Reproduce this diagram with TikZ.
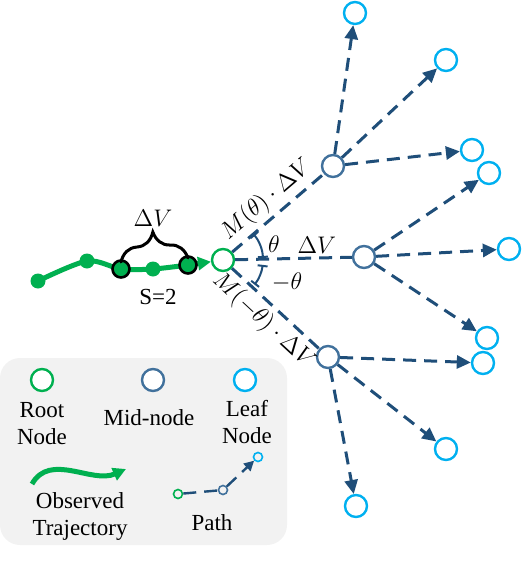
\documentclass[tikz,border=0pt]{standalone}
\usepackage{amsmath,amssymb}
\usepackage{fontspec}
\setmainfont{Liberation Serif}
\usepackage{tikz}
\usetikzlibrary{arrows.meta,positioning,calc,decorations.pathreplacing}
\definecolor{rootgreen}{RGB}{0,176,80}
\definecolor{midblue}{RGB}{65,113,156}
\definecolor{leafblue}{RGB}{0,176,240}
\definecolor{pathblue}{RGB}{31,78,121}
\definecolor{legendgray}{RGB}{242,242,242}

\begin{document}
\begin{tikzpicture}[x=0.5pt,y=-0.5pt,
  every node/.style={font=\fontsize{11.5}{13.5}\selectfont,text=black},
  rootnode/.style={circle,draw=rootgreen,line width=1.2pt,fill=white,minimum size=11pt,inner sep=0pt},
  midnode/.style={rootnode,draw=midblue},
  leafnode/.style={rootnode,draw=leafblue},
  dotnode/.style={circle,fill=rootgreen,minimum size=7.5pt,inner sep=0pt},
  keydot/.style={dotnode,draw=black,line width=1.3pt,minimum size=8.5pt},
  edgeline/.style={pathblue,line width=1.5pt,dash pattern=on 6.5pt off 4pt},
  leafedge/.style={edgeline,-{Triangle[length=7pt,width=6.5pt]}},
  traj/.style={rootgreen,line width=2.5pt,-{Triangle[length=6.5pt,width=6.5pt]}},
  anglearc/.style={pathblue,line width=1pt,{Bar[width=5pt]}-{Bar[width=5pt]}}]
  \useasboundingbox (0,0) rectangle (524,578);

  % legend background
  \fill[legendgray,rounded corners=10pt] (0,358) rectangle (287,545);

  % observed trajectory
  \coordinate (t1) at (38,281);
  \coordinate (t2) at (87,261);
  \coordinate (t3) at (121,269);
  \coordinate (t4) at (153,269);
  \coordinate (t5) at (188,265);
  \node[rootnode] (root) at (223,260) {};
  \draw[traj] plot[smooth,tension=0.5] coordinates {(t1) (t2) (t3) (t4) (t5)} -- (root);
  \foreach \p in {t1,t2,t4}
    \node[dotnode] (dot\p) at (\p) {};
  \node[keydot] (dott3) at (t3) {};
  \node[keydot] (dott5) at (t5) {};
  \draw[line width=1.5pt,line cap=round,decorate,decoration={brace,amplitude=14pt}]
    ($(dott3)+(0,-7)$) -- ($(dott5)+(0,-7)$);
  \node (bracelbl) at (153,218) {$\Delta V$};
  \node (steplbl) at (158,297) {S=2};

  % mid-nodes
  \node[midnode] (mtop) at (333,166) {};
  \node[midnode] (mmid) at (364,257) {};
  \node[midnode] (mbot) at (328,357) {};
  \draw[edgeline] (root) -- node[pos=0.5,sloped,above,inner sep=2pt] {$M(\theta)\cdot\Delta V$} (mtop);
  \draw[edgeline] (root) -- node[pos=0.7,above,inner sep=1.5pt] {$\Delta V$} (mmid);
  \draw[edgeline] (root) -- node[pos=0.5,sloped,below,inner sep=2pt] {$M(-\theta)\cdot\Delta V$} (mbot);

  % angles
  \draw[anglearc] (root.center) ++(-40:40) arc[start angle=-40,end angle=-3,radius=40];
  \draw[anglearc] (root.center) ++(7:40) arc[start angle=7,end angle=38,radius=40];
  \node (thetalbl) at (274,244) {$\theta$};
  \node (mthetalbl) at (287,282) {$-\theta$};

  % leaf nodes
  \foreach \n/\x/\y in {la/355/13,lb/446/60,lc/472/150,ld/489/173,le/509/249,
                        lf/487/338,lg/483/363,lh/446/449,li/356/506}
    \node[leafnode] (\n) at (\x,\y) {};
  \foreach \m/\l in {mtop/la,mtop/lb,mtop/lc,mmid/ld,mmid/le,mmid/lf,mbot/lg,mbot/lh,mbot/li}
    \draw[leafedge] (\m) -- (\l);

  % legend
  \node[rootnode] (keyroot) at (42,380) {};
  \node[midnode] (keymid) at (153,380) {};
  \node[leafnode] (keyleaf) at (245,380) {};
  \node[align=center] (keyrootlbl) at (42,424) {Root\\Node};
  \node (keymidlbl) at (149,418) {Mid-node};
  \node[align=center] (keyleaflbl) at (247,422) {Leaf\\Node};
  \coordinate (wstart) at (32,484);
  \coordinate (wend) at (126,469);
  \draw[traj] (wstart) .. controls (50,452) and (92,484) .. (wend);
  \node[align=center] (keytrajlbl) at (80,516) {Observed\\Trajectory};
  \node[circle,draw=rootgreen,line width=0.8pt,minimum size=4.5pt,inner sep=0pt] (proot) at (178,494) {};
  \node[circle,draw=midblue,line width=0.8pt,minimum size=4.5pt,inner sep=0pt] (pmid) at (223,490) {};
  \node[circle,draw=leafblue,line width=0.8pt,minimum size=4.5pt,inner sep=0pt] (pleaf) at (258,457) {};
  \draw[pathblue,line width=1.2pt,dash pattern=on 6.5pt off 4pt] (proot) -- (pmid);
  \draw[pathblue,line width=1.2pt,dash pattern=on 6.5pt off 4pt,-{Triangle[length=5pt,width=5pt]}] (pmid) -- (pleaf);
  \node (keypathlbl) at (212,523) {Path};
\end{tikzpicture}
\end{document}
